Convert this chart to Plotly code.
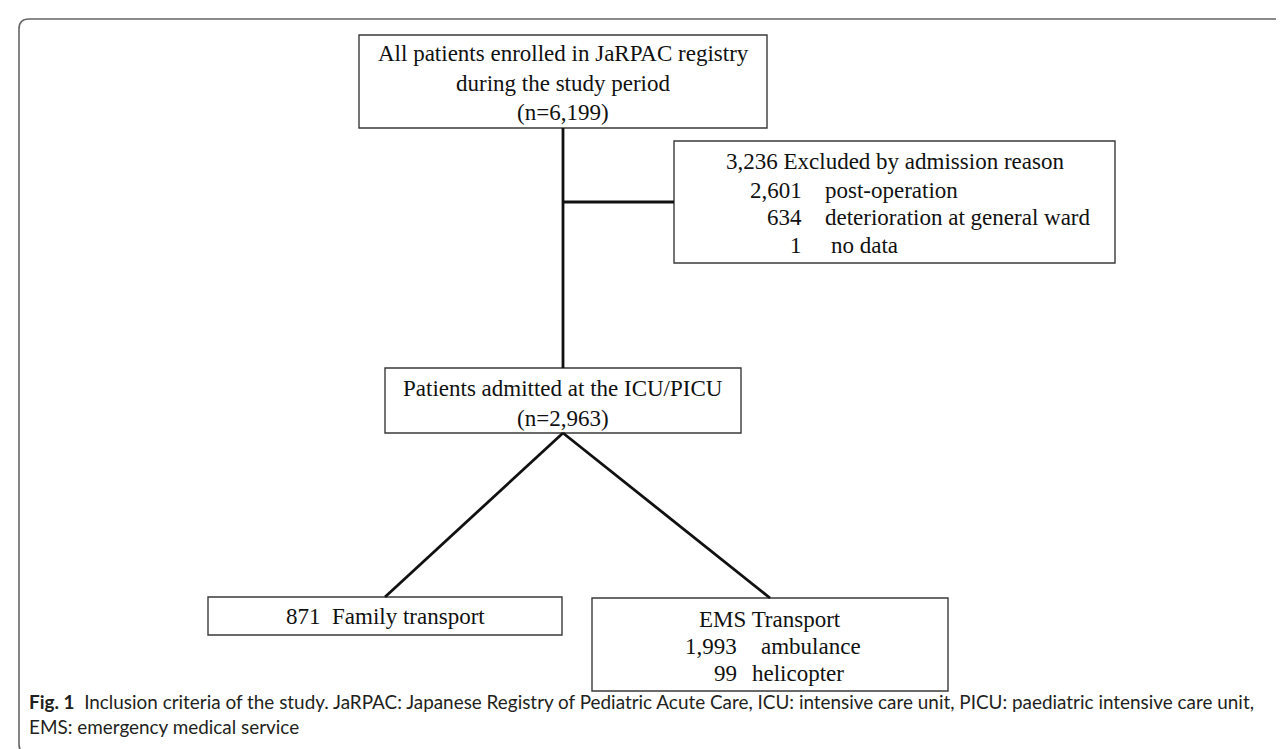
import plotly.graph_objects as go

# ---------------- data ----------------
n_enrolled = 6199
n_excluded = 3236
excl_reasons = ["post-operation", "deterioration at general ward", "no data"]
excl_counts = [2601, 634, 1]
n_icu = 2963
n_family = 871
ems_modes = ["ambulance", "helicopter"]
ems_counts = [1993, 99]
caption_lines = [
    "<b>Fig. 1</b>\u00a0\u00a0Inclusion criteria of the study. JaRPAC: Japanese Registry of Pediatric Acute Care, ICU: intensive care unit, PICU: paediatric intensive care unit,",
    "EMS: emergency medical service",
]

# ---------------- layout geometry (pixels) ----------------
W, H = 1284, 749
boxes = {
    "top": (351, 27, 759, 120),
    "excl": (666, 133, 1107, 255),
    "icu": (377, 360, 733, 425),
    "family": (200, 589, 554, 627),
    "ems": (584, 590, 940, 683),
}
SERIF = "Liberation Serif, Times New Roman, serif"
FS = 23
INK = "#111111"


def fmt(v):
    return f"{v:,}"


fig = go.Figure()
fig.add_trace(go.Scatter(x=[0, W], y=[0, H], mode="markers",
                         marker=dict(opacity=0), hoverinfo="skip", showlegend=False))

shapes = []
# outer frame (rounded, open to the right)
r = 10
fl, ft, fb = 11, 11, 746
shapes.append(dict(type="path", xref="x", yref="y",
                   path=f"M {W+20},{ft} L {fl+r},{ft} Q {fl},{ft} {fl},{ft+r} L {fl},{fb-r} Q {fl},{fb} {fl+r},{fb} L {W+20},{fb}",
                   line=dict(color="#666666", width=1.6)))
# boxes
for k, (x0, y0, x1, y1) in boxes.items():
    shapes.append(dict(type="rect", xref="x", yref="y", x0=x0, y0=y0, x1=x1, y1=y1,
                       line=dict(color="#3a3a3a", width=1.4), fillcolor="rgba(0,0,0,0)"))

# connectors
cx = 555
branch_y = 194
fam_cx = (boxes["family"][0] + boxes["family"][2]) / 2
ems_cx = (boxes["ems"][0] + boxes["ems"][2]) / 2
conn = [
    (cx, boxes["top"][3], cx, boxes["icu"][1]),
    (cx, branch_y, boxes["excl"][0], branch_y),
    (cx, boxes["icu"][3], fam_cx, boxes["family"][1]),
    (cx, boxes["icu"][3], ems_cx, boxes["ems"][1]),
]
for x0, y0, x1, y1 in conn:
    shapes.append(dict(type="line", xref="x", yref="y", x0=x0, y0=y0, x1=x1, y1=y1,
                       line=dict(color=INK, width=2.8)))

ann = []


def text(x, y, s, xanchor="center", size=FS, family=SERIF, color=INK):
    ann.append(dict(x=x, y=y, xref="x", yref="y", text=s, showarrow=False,
                    xanchor=xanchor, yanchor="middle",
                    font=dict(family=family, size=size, color=color)))


# top box
text(555, 45, "All patients enrolled in JaRPAC registry")
text(555, 75, "during the study period")
text(555, 104, f"(n={fmt(n_enrolled)})")

# exclusion box
text(887, 153, f"{fmt(n_excluded)} Excluded by admission reason")
ex_y = [182, 209, 237]
ex_desc_x = [815, 815, 821]
for c, reason, yy, dx in zip(excl_counts, excl_reasons, ex_y, ex_desc_x):
    text(796, yy, fmt(c), xanchor="right")
    text(dx, yy, reason, xanchor="left")

# ICU box
text(555, 380, "Patients admitted at the ICU/PICU")
text(555, 410, f"(n={fmt(n_icu)})")

# family box
text(fam_cx, 608, f"{n_family}\u00a0\u00a0Family transport")

# EMS box
text(ems_cx, 611, "EMS Transport")
em_y = [638, 665]
em_desc_x = [751, 742]
for c, mode, yy, dx in zip(ems_counts, ems_modes, em_y, em_desc_x):
    text(731, yy, fmt(c), xanchor="right")
    text(dx, yy, mode, xanchor="left")

# caption
CAP = "Lato, Open Sans, sans-serif"
for i, line in enumerate(caption_lines):
    text(19, 693 + 25 * i, line, xanchor="left", size=18.9, family=CAP, color="#231f20")

fig.update_layout(
    width=W, height=H,
    margin=dict(l=0, r=0, t=0, b=0),
    paper_bgcolor="white", plot_bgcolor="white",
    xaxis=dict(range=[0, W], visible=False, fixedrange=True),
    yaxis=dict(range=[H, 0], visible=False, fixedrange=True),
    shapes=shapes, annotations=ann, showlegend=False,
)
fig.write_html("out.html")
